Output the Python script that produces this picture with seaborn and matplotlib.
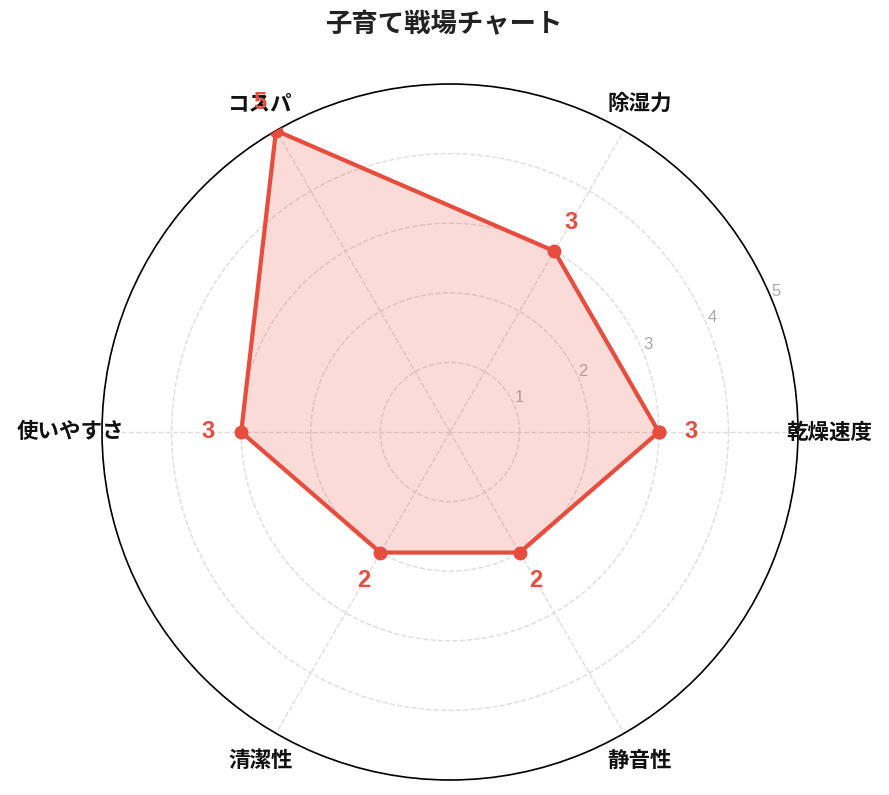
import numpy as np
import matplotlib
matplotlib.use("Agg")
import matplotlib.pyplot as plt
import seaborn as sns

# data
categories = ["乾燥速度", "除湿力", "コスパ", "使いやすさ", "清潔性", "静音性"]
values = [3, 3, 5, 3, 2, 2]
r_ticks = [1, 2, 3, 4, 5]
title = "子育て戦場チャート"

red = "#e74c3c"

sns.set_theme(style="white")
plt.rcParams['font.family'] = ['Noto Sans CJK JP', 'DejaVu Sans']

n = len(categories)
angles = np.arange(n) * 2 * np.pi / n
ang_c = np.append(angles, 2 * np.pi)
val_c = np.append(values, values[0])

fig = plt.figure(figsize=(8.89, 7.95), dpi=100)
ax = fig.add_axes([102 / 889, 15 / 795, 696 / 889, 696 / 795], projection="polar")

ax.fill(ang_c, val_c, color=red, alpha=0.2, zorder=2)
sns.lineplot(x=ang_c, y=val_c, sort=False, estimator=None, ax=ax, color=red,
             linewidth=3, marker="o", markersize=10, markeredgewidth=0, zorder=3)

ax.set_ylim(0, 5)
ax.set_yticks(r_ticks)
ax.set_yticklabels([str(t) for t in r_ticks], color="#aaaaaa", fontsize=12,
                   family=["Liberation Sans", "DejaVu Sans"])
ax.set_rlabel_position(22.5)
ax.set_xticks(angles)
ax.set_xticklabels([])
ax.set_xlabel("")
ax.set_ylabel("")
ax.grid(True, color="#dddddd", linestyle="--", linewidth=1)
ax.spines["polar"].set_color("black")
ax.spines["polar"].set_linewidth(1.2)

# category labels
for a, c in zip(angles, categories):
    ax.text(a, 5.45, c, ha="center", va="center", fontsize=15.5,
            fontweight="bold", color="#111111")

# value labels
for a, v in zip(angles, values):
    ax.text(a, v + 0.47, str(v), ha="center", va="center", fontsize=17,
            fontweight="bold", color=red, zorder=5,
            family=["Liberation Sans", "DejaVu Sans"])

fig.suptitle(title, y=1 - 25 / 795, va="center", fontsize=19,
             fontweight="bold", color="#222222")

fig.savefig("out.png", dpi=100)
